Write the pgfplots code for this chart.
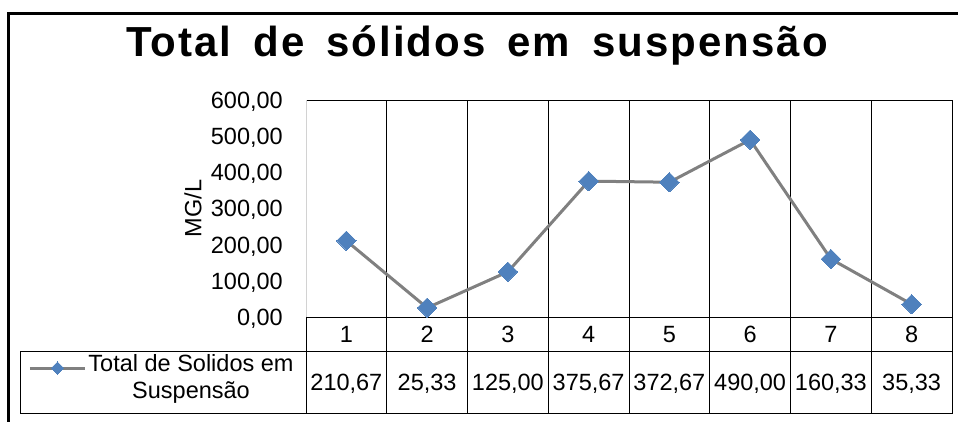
\documentclass[border=0pt]{standalone}
\usepackage{fontspec}
\setmainfont{Liberation Sans}
\newfontfamily\titlefont[LetterSpace=4.8]{Liberation Sans}
\usepackage{pgfplots}
\pgfplotsset{compat=1.18}
\usepackage{pgfplotstable}
\definecolor{linegray}{RGB}{128,128,128}
\definecolor{markblue}{RGB}{79,129,189}
\definecolor{spinegray}{RGB}{210,210,210}
\pgfplotstableread{
x y
1 210.67
2 25.33
3 125.00
4 375.67
5 372.67
6 490.00
7 160.33
8 35.33
}\datatable
\newcommand\bodyfont{\fontsize{23.5}{27}\selectfont}
\begin{document}
\begin{tikzpicture}
\path[use as bounding box] (0pt,0pt) rectangle (958pt,421pt);
% outer frame (cut at right and bottom)
\draw[line width=3pt] (8pt,-10pt) -- (8pt,407pt) -- (970pt,407pt);
\node[font={\titlefont\fontsize{42}{50}\selectfont\bfseries}, anchor=base, inner sep=0pt] at (477pt,364pt) {\spaceskip=22pt\relax Total de sólidos em suspensão};
\begin{axis}[
  at={(306pt,104pt)}, anchor=south west,
  scale only axis, width=646pt, height=217pt,
  xmin=0.5, xmax=8.5, ymin=0, ymax=600,
  xtick={1,...,8},
  ytick={0,100,...,600},
  minor xtick={1.5,2.5,...,8.5},
  xtick pos=bottom, ytick pos=left,
  tick align=outside,
  major tick length=0pt,
  minor tick length=96pt,
  minor tick style={black, line width=1pt},
  xminorgrids=true,
  minor x grid style={black, line width=1pt},
  separate axis lines,
  x axis line style={black, line width=1pt},
  y axis line style={draw=none},
  /pgf/number format/assume math mode=true,
  yticklabel={\pgfmathprintnumber[fixed, fixed zerofill, precision=2, use comma, 1000 sep={}]{\tick}},
  yticklabel style={font=\bodyfont, anchor=base east, inner sep=0pt, xshift=-23pt, yshift=-8.4pt},
  xticklabel style={font=\bodyfont, anchor=base, inner sep=0pt, yshift=-25.4pt},
  extra x ticks={1,...,8},
  extra x tick labels={{210,67},{25,33},{125,00},{375,67},{372,67},{490,00},{160,33},{35,33}},
  extra x tick style={grid=none, xticklabel style={yshift=-48pt}},
  ylabel={MG/L},
  every axis y label/.style={at={(rel axis cs:0,0.5)}, xshift=-113pt, rotate=90, anchor=center, font=\bodyfont},
  legend style={at={(-0.2229,-0.2765)}, anchor=center, draw=none, fill=none, font=\bodyfont, cells={align=center}, inner sep=0pt},
  legend image code/.code={\draw[mark repeat=2, mark phase=2, #1, line width=3pt, mark size=4.3pt, yshift=9pt] plot coordinates {(0pt,0pt) (27.5pt,0pt) (55pt,0pt)};},
  clip=false,
]
\addplot[color=linegray, line width=3pt, mark=square*, mark size=6.9pt, mark options={fill=markblue, draw=markblue, line width=0pt, rotate=45, solid}] table[x=x, y=y] {\datatable};
\addlegendentry{Total de Solidos em\\Suspensão}
\draw[spinegray, line width=1pt] (rel axis cs:0,0) -- (rel axis cs:0,1);
\end{axis}
% data table frame
\draw[black, line width=1pt] (20.7pt,70pt) -- (952.5pt,70pt);
\draw[black, line width=1pt] (20.7pt,70pt) -- (20.7pt,8pt) -- (952.5pt,8pt);
\draw[black, line width=1pt] (306pt,104pt) -- (306pt,8pt);
\end{tikzpicture}
\end{document}
